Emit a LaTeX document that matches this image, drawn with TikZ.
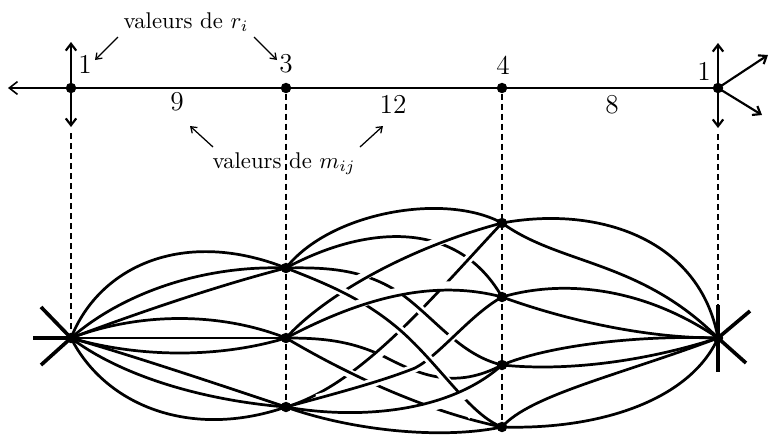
\documentclass[tikz,border=0pt]{standalone}
\usetikzlibrary{arrows.meta}
\begin{document}
\begin{tikzpicture}[x=0.44pt,y=-0.44pt,
  curve/.style={line width=1.2pt},
  brd/.style={curve, preaction={draw=white, line width=3.8pt, shorten <=14pt, shorten >=14pt}},
  dot/.style={circle, fill=black, inner sep=0pt, minimum size=4.6pt},
  vdash/.style={line width=0.55pt, dash pattern=on 2.6pt off 1.8pt},
  axis/.style={line width=0.7pt},
  bigtip/.style={line width=0.95pt, -{Straight Barb[length=3pt,width=4.6pt]}},
  axtip/.style={axis, -{Straight Barb[length=3.6pt,width=5.6pt]}},
  smalltip/.style={line width=0.55pt, -{Straight Barb[length=2.4pt,width=3.4pt]}},
  star/.style={line width=1.6pt},
  lab/.style={inner sep=0pt},
  num/.style={inner sep=0pt, font=\large}
]
\useasboundingbox (0,0) rectangle (769,434);

% ---------- top axis ----------
\node[dot] (T1) at (71,88) {};
\node[dot] (T2) at (286,88) {};
\node[dot] (T3) at (502,88) {};
\node[dot] (T4) at (718,88) {};
\coordinate (Tleft) at (8,88);
\coordinate (T1up) at (71,42);
\coordinate (T1dn) at (71,127);
\coordinate (T4up) at (718,43);
\coordinate (T4dn) at (718,128);
\coordinate (T4ne) at (768,55);
\coordinate (T4se) at (762,115);

\draw[axtip] (T1.center) -- (Tleft);
\draw[axis] (T1.center) -- (T2.center) -- (T3.center) -- (T4.center);
\draw[bigtip] (T1.center) -- (T1up);
\draw[bigtip] (T1.center) -- (T1dn);
\draw[bigtip] (T4.center) -- (T4up);
\draw[bigtip] (T4.center) -- (T4dn);
\draw[bigtip] (T4.center) -- (T4ne);
\draw[bigtip] (T4.center) -- (T4se);

\node[num] (r1) at (85,64) {1};
\node[num] (r2) at (286,64) {3};
\node[num] (r3) at (503,65) {4};
\node[num] (r4) at (704,71) {1};
\node[num] (m1) at (177,102) {9};
\node[num] (m2) at (393,104) {12};
\node[num] (m3) at (612,105) {8};

\node[lab, anchor=base] (ri) at (186,28) {valeurs de $r_i$};
\node[lab, anchor=base] (mij) at (284,168) {valeurs de $m_{ij}$};

\coordinate (ra1) at (118,37); \coordinate (rb1) at (95,60);
\coordinate (ra2) at (254,37); \coordinate (rb2) at (277,60);
\coordinate (ma1) at (213,147); \coordinate (mb1) at (190,126);
\coordinate (ma2) at (360,147); \coordinate (mb2) at (383,126);
\draw[smalltip] (ra1) -- (rb1);
\draw[smalltip] (ra2) -- (rb2);
\draw[smalltip] (ma1) -- (mb1);
\draw[smalltip] (ma2) -- (mb2);

% ---------- lower graph ----------
\coordinate (L) at (71,338);
\coordinate (A1) at (286,268);
\coordinate (A2) at (286,338);
\coordinate (A3) at (286,407);
\coordinate (B1) at (502,223);
\coordinate (B2) at (502,297);
\coordinate (B3) at (502,365);
\coordinate (B4) at (502,427);
\coordinate (R) at (718,338);

% star ends
\coordinate (Lw) at (33,338);
\coordinate (Lnw) at (41,307);
\coordinate (Lsw) at (41,365);
\coordinate (Rn) at (718,305);
\coordinate (Rs) at (718,372);
\coordinate (Rne) at (750,311);
\coordinate (Rse) at (746,363);
\draw[star] (L) -- (Lw);
\draw[star] (L) -- (Lnw);
\draw[star] (L) -- (Lsw);
\draw[star] (Rn) -- (Rs);
\draw[star] (R) -- (Rne);
\draw[star] (R) -- (Rse);

% L to A
\draw[curve] (L) .. controls (100,265) and (185,228) .. (A1);
\draw[curve] (L) .. controls (120,295) and (200,265) .. (A1);
\draw[curve] (L) .. controls (140,312) and (220,285) .. (A1);
\draw[curve] (L) .. controls (140,312) and (220,312) .. (A2);
\draw[curve] (L) -- (A2);
\draw[curve] (L) .. controls (140,358) and (220,358) .. (A2);
\draw[curve] (L) .. controls (140,358) and (220,385) .. (A3);
\draw[curve] (L) .. controls (120,375) and (200,400) .. (A3);
\draw[curve] (L) .. controls (105,405) and (190,440) .. (A3);

% B to R
\draw[curve] (B1) .. controls (600,205) and (700,240) .. (R);
\draw[curve] (B1) .. controls (560,265) and (640,260) .. (R);
\draw[curve] (B2) .. controls (560,280) and (640,285) .. (R);
\draw[curve] (B2) .. controls (560,318) and (640,338) .. (R);
\draw[curve] (B3) .. controls (550,345) and (640,335) .. (R);
\draw[curve] (B3) .. controls (570,372) and (650,360) .. (R);
\draw[curve] (B4) .. controls (530,395) and (620,375) .. (R);
\draw[curve] (B4) .. controls (600,430) and (690,400) .. (R);

% A to B (bottom layer first)
\draw[brd] (A1) .. controls (360,228) and (455,215) .. (B2);
\draw[brd] (A2) .. controls (320,338) and (350,340) .. (385,357) .. controls (420,375) and (455,390) .. (B3);
\draw[brd] (A3) .. controls (360,385) and (430,300) .. (B1);
\draw[brd] (A1) .. controls (330,267) and (365,270) .. (400,293) .. controls (435,318) and (460,355) .. (B3);
\draw[brd] (A2) .. controls (340,370) and (420,410) .. (B4);
\draw[brd] (A2) .. controls (320,300) and (400,250) .. (B1);
\draw[brd] (A3) .. controls (330,395) and (380,382) .. (415,368) .. controls (440,355) and (470,315) .. (B2);
\draw[brd] (A1) .. controls (330,285) and (365,300) .. (400,330) .. controls (440,365) and (470,415) .. (B4);
\draw[brd] (A1) .. controls (330,212) and (445,192) .. (B1);
\draw[brd] (A2) .. controls (340,310) and (420,275) .. (B2);
\draw[brd] (A3) .. controls (360,420) and (450,412) .. (B3);
\draw[brd] (A3) .. controls (350,430) and (440,440) .. (B4);

% dashed verticals
\draw[vdash] (T1dn) ++(0,6) -- (L);
\draw[vdash] (T2) -- (A3);
\draw[vdash] (T3) -- (B4);
\draw[vdash] (T4dn) ++(0,6) -- (R);

% dots
\node[dot] (dL) at (L) {};
\node[dot] (dA1) at (A1) {};
\node[dot] (dA2) at (A2) {};
\node[dot] (dA3) at (A3) {};
\node[dot] (dB1) at (B1) {};
\node[dot] (dB2) at (B2) {};
\node[dot] (dB3) at (B3) {};
\node[dot] (dB4) at (B4) {};
\node[dot] (dR) at (R) {};
\end{tikzpicture}
\end{document}
